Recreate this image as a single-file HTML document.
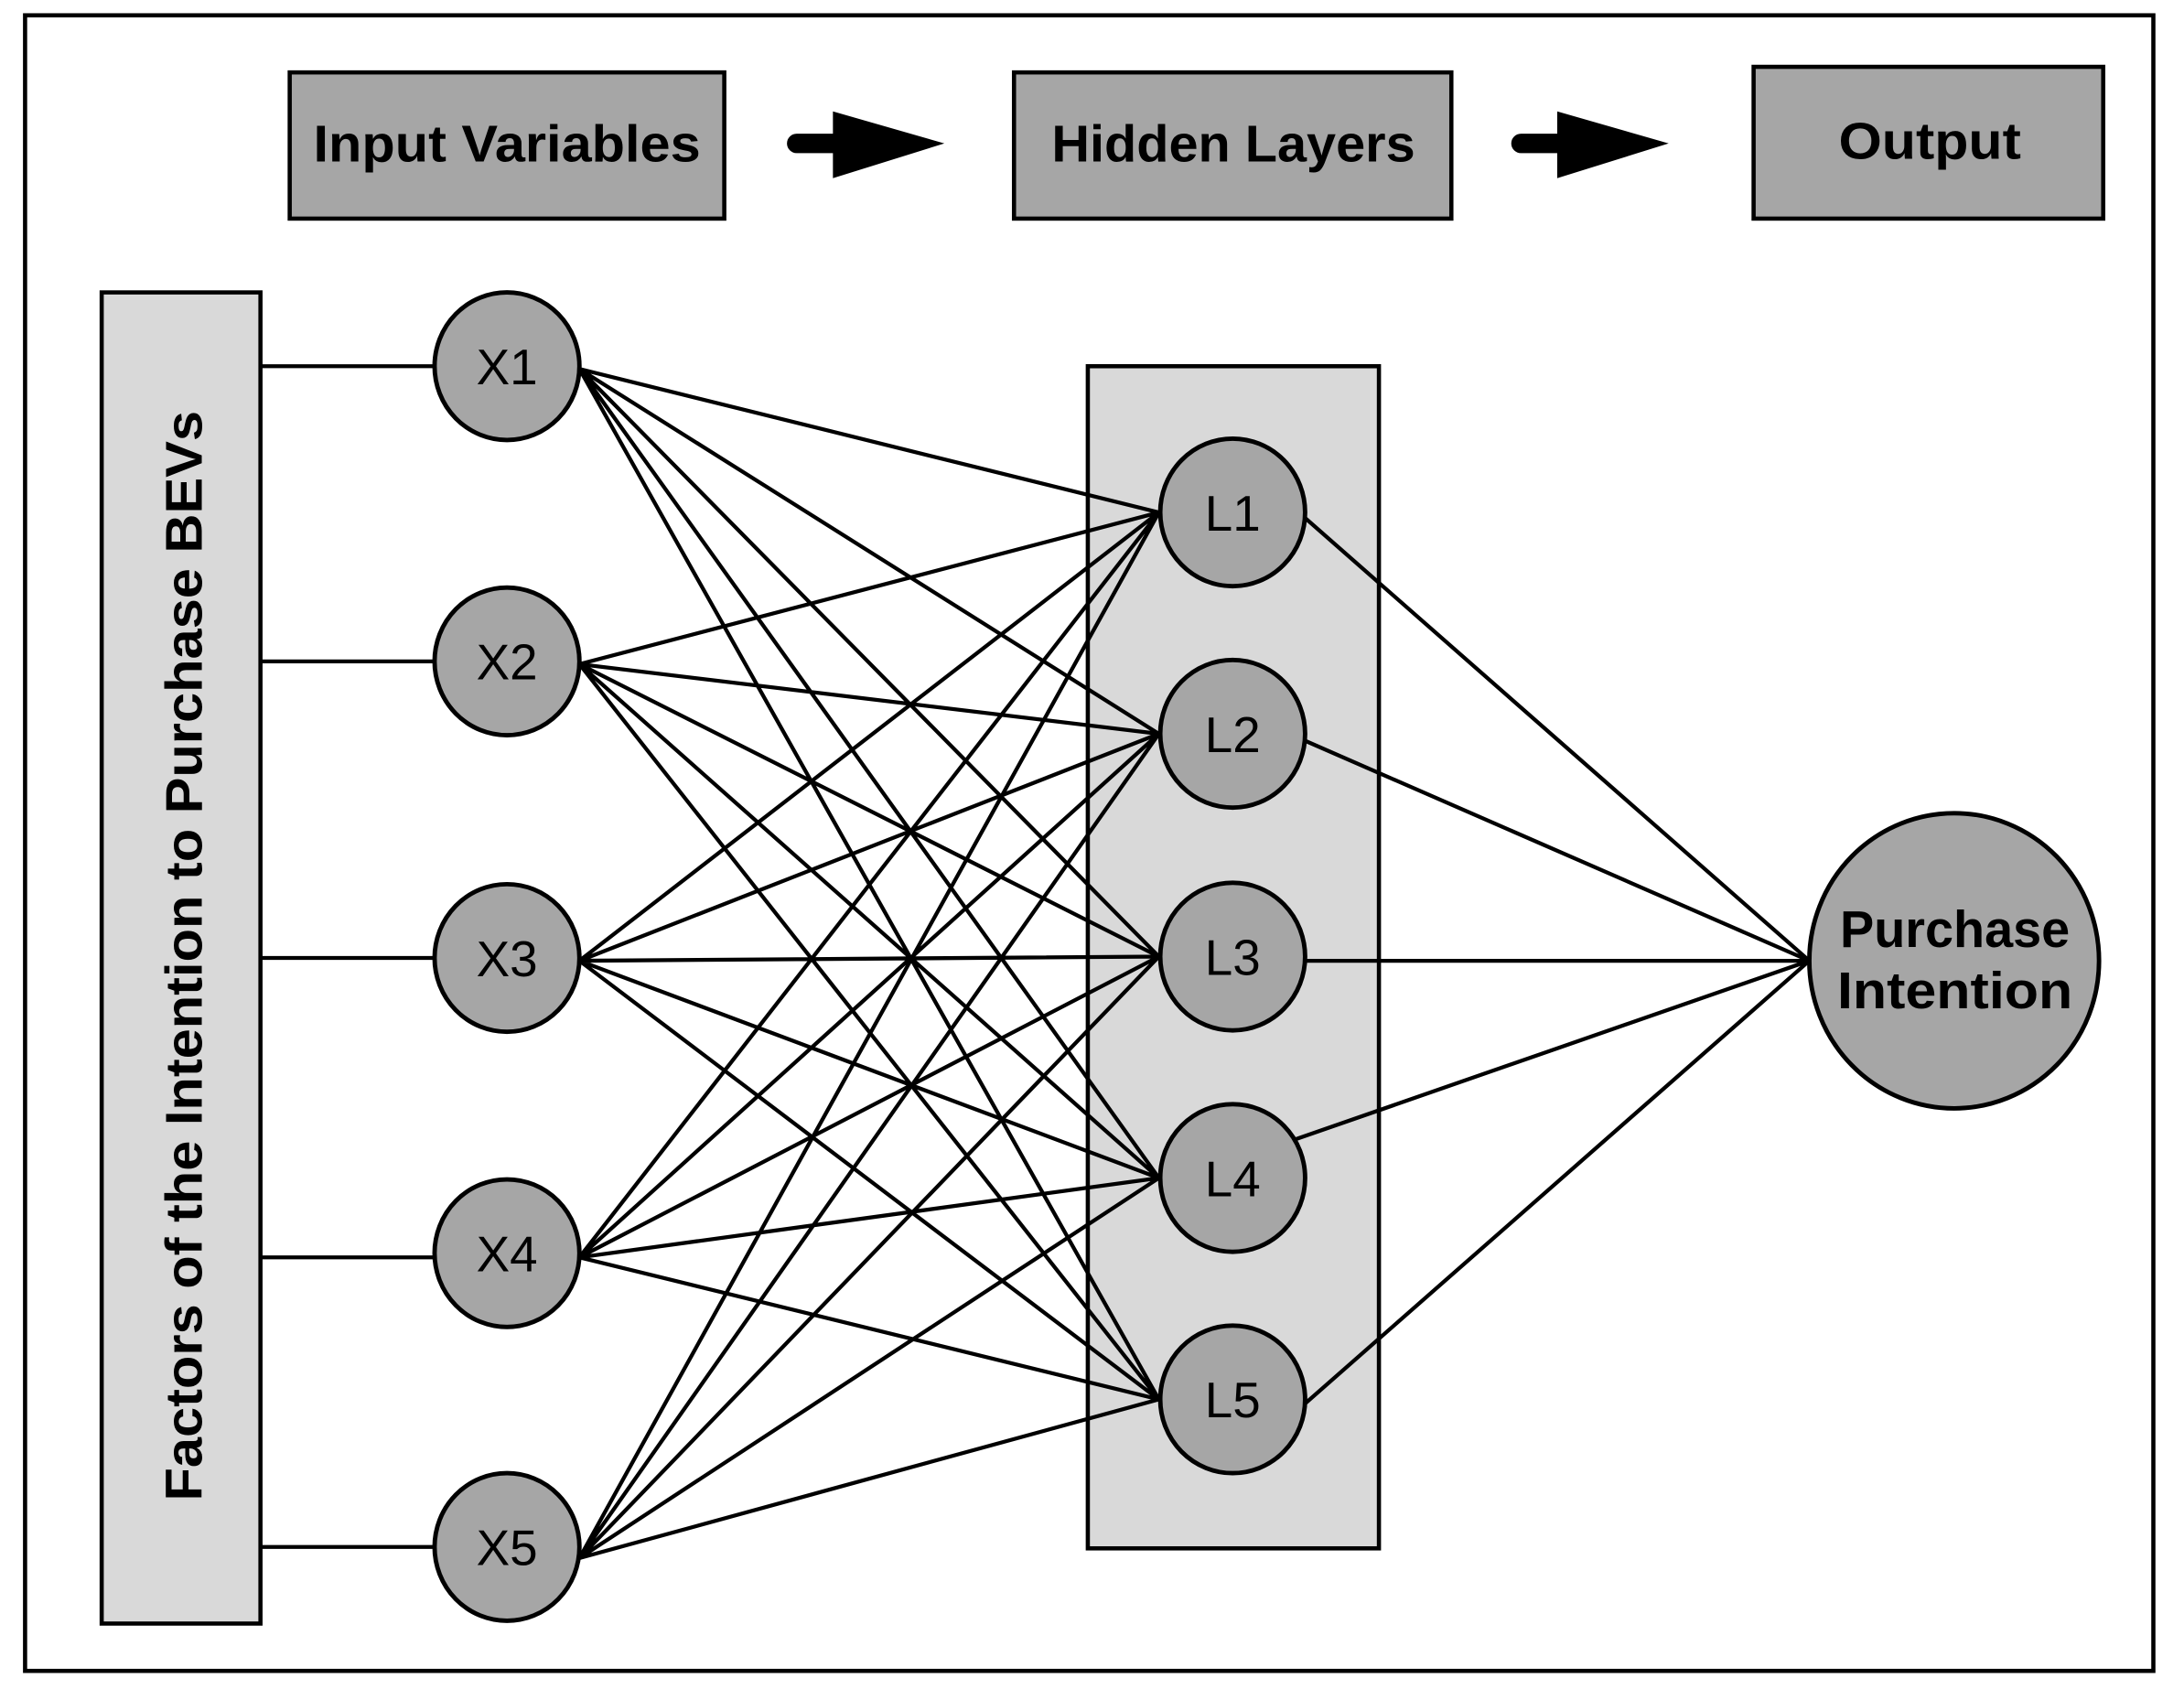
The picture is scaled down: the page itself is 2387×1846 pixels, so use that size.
<!DOCTYPE html>
<html><head><meta charset="utf-8"><style>
html,body{margin:0;padding:0;background:#fff}
svg{display:block}
text{font-family:"Liberation Sans","DejaVu Sans",sans-serif}
</style></head><body>
<svg width="2387" height="1846" viewBox="0 0 1568 1213" preserveAspectRatio="none" xmlns="http://www.w3.org/2000/svg">
<rect x="0" y="0" width="1568" height="1213" fill="#fff"/>
<rect x="18" y="11" width="1528" height="1189" fill="#fff" stroke="#000" stroke-width="3"/>
<g stroke="#000" stroke-width="3" fill="#a6a6a6">
<rect x="208" y="52" width="312" height="105"/>
<rect x="728" y="52" width="314" height="105"/>
<rect x="1259" y="48" width="251" height="109"/>
</g>
<g font-weight="bold" font-size="37" fill="#000" lengthAdjust="spacingAndGlyphs">
<text x="225" y="116" textLength="278" lengthAdjust="spacingAndGlyphs">Input Variables</text>
<text x="755" y="116" textLength="261" lengthAdjust="spacingAndGlyphs">Hidden Layers</text>
<text x="1320" y="114" textLength="131" lengthAdjust="spacingAndGlyphs">Output</text>
</g>
<g fill="#000">
<rect x="565" y="96" width="40" height="14" rx="7"/>
<polygon points="598,80 678,103 598,128"/>
<rect x="1085" y="96" width="40" height="14" rx="7"/>
<polygon points="1118,80 1198,103 1118,128"/>
</g>
<rect x="73" y="210" width="114" height="956" fill="#d9d9d9" stroke="#000" stroke-width="3"/>
<text transform="translate(145,1078) rotate(-90)" font-weight="bold" font-size="37" textLength="783" lengthAdjust="spacingAndGlyphs">Factors of the Intention to Purchase BEVs</text>
<rect x="781" y="263" width="209" height="849" fill="#d9d9d9" stroke="#000" stroke-width="3"/>
<g stroke="#000" stroke-width="2.8">
<line x1="187" y1="263" x2="312" y2="263"/>
<line x1="187" y1="475" x2="312" y2="475"/>
<line x1="187" y1="688" x2="312" y2="688"/>
<line x1="187" y1="903" x2="312" y2="903"/>
<line x1="187" y1="1111" x2="312" y2="1111"/>
</g>
<g stroke="#000" stroke-width="2.8">
<path d="M416 265L832 368M416 265L832 527M416 265L832 687M416 265L832 846M416 265L832 1005
M416 477L832 368M416 477L832 527M416 477L832 687M416 477L832 846M416 477L832 1005
M416 690L832 368M416 690L832 527M416 690L832 687M416 690L832 846M416 690L832 1005
M416 903L832 368M416 903L832 527M416 903L832 687M416 903L832 846M416 903L832 1005
M416 1119L832 368M416 1119L832 527M416 1119L832 687M416 1119L832 846M416 1119L832 1005
M937 372L1299 690M937 532L1299 690M937 690L1299 690M925 820L1299 690M937 1008L1299 690" fill="none"/>
</g>
<g stroke="#000" stroke-width="3.2" fill="#a6a6a6">
<ellipse cx="364" cy="263" rx="52" ry="53"/>
<ellipse cx="364" cy="475" rx="52" ry="53"/>
<ellipse cx="364" cy="688" rx="52" ry="53"/>
<ellipse cx="364" cy="900" rx="52" ry="53"/>
<ellipse cx="364" cy="1111" rx="52" ry="53"/>
<ellipse cx="885" cy="368" rx="52" ry="53"/>
<ellipse cx="885" cy="527" rx="52" ry="53"/>
<ellipse cx="885" cy="687" rx="52" ry="53"/>
<ellipse cx="885" cy="846" rx="52" ry="53"/>
<ellipse cx="885" cy="1005" rx="52" ry="53"/>
<ellipse cx="1403" cy="690" rx="104" ry="106"/>
</g>
<g font-size="36" text-anchor="middle" fill="#000">
<text x="364" y="276">X1</text>
<text x="364" y="488">X2</text>
<text x="364" y="701">X3</text>
<text x="364" y="913">X4</text>
<text x="364" y="1124">X5</text>
<text x="885" y="381">L1</text>
<text x="885" y="540">L2</text>
<text x="885" y="700">L3</text>
<text x="885" y="859">L4</text>
<text x="885" y="1018">L5</text>
</g>
<g font-size="37" font-weight="bold" fill="#000">
<text x="1321" y="680" textLength="165" lengthAdjust="spacingAndGlyphs">Purchase</text>
<text x="1319" y="724" textLength="169" lengthAdjust="spacingAndGlyphs">Intention</text>
</g>
</svg>
</body></html>
